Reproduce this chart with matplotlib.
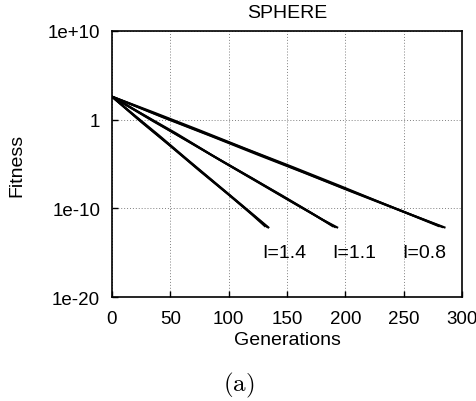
import matplotlib.pyplot as plt
import numpy as np

# best fitness (log10) per generation, three runs for each I setting
gens_14 = [[0, 20, 45, 70, 95, 115, 133],
           [0, 25, 50, 75, 100, 120, 131],
           [0, 15, 40, 65, 90, 110, 134]]
logf_14 = [[2.6, 0.35, -2.40, -5.15, -7.90, -10.10, -12.10],
           [2.6, -0.25, -2.95, -5.75, -8.45, -10.70, -12.00],
           [2.6, 0.95, -1.75, -4.55, -7.30, -9.50, -12.15]]

gens_11 = [[0, 30, 60, 90, 120, 150, 175, 191],
           [0, 25, 55, 85, 115, 145, 170, 189],
           [0, 35, 65, 95, 125, 155, 180, 193]]
logf_11 = [[2.6, 0.30, -2.05, -4.35, -6.60, -8.95, -10.85, -12.10],
           [2.6, 0.70, -1.55, -3.95, -6.25, -8.50, -10.45, -12.00],
           [2.6, -0.15, -2.40, -4.75, -7.05, -9.35, -11.25, -12.15]]

gens_08 = [[0, 40, 80, 120, 160, 200, 240, 283],
           [0, 35, 75, 115, 155, 195, 235, 280],
           [0, 45, 85, 125, 165, 205, 245, 285]]
logf_08 = [[2.6, 0.50, -1.55, -3.60, -5.70, -7.80, -9.85, -12.10],
           [2.6, 0.85, -1.20, -3.30, -5.35, -7.45, -9.60, -12.00],
           [2.6, 0.20, -1.85, -3.95, -6.00, -8.10, -10.15, -12.15]]

labels = ["I=1.4", "I=1.1", "I=0.8"]
label_x = [148, 208, 268]
label_y = 1e-15

plt.rcParams['font.family'] = ['Liberation Sans', 'DejaVu Sans']
plt.rcParams['mathtext.fontset'] = 'cm'

fig = plt.figure(figsize=(4.77, 4.02), dpi=100)
ax = fig.add_axes([0.2348, 0.2587, 0.7338, 0.6617])

for gens, logf in [(gens_14, logf_14), (gens_11, logf_11), (gens_08, logf_08)]:
    for g, f in zip(gens, logf):
        ax.plot(g, 10.0 ** np.array(f), color='black', lw=1.5)

for lab, lx in zip(labels, label_x):
    ax.text(lx, label_y, lab, fontsize=14, ha='center', va='center')

ax.set_yscale('log')
ax.set_xlim(0, 300)
ax.set_ylim(1e-20, 1e10)
ax.set_xticks([0, 50, 100, 150, 200, 250, 300])
ax.set_yticks([1e10, 1, 1e-10, 1e-20])
ax.set_yticklabels(['1e+10', '1', '1e-10', '1e-20'])
ax.minorticks_off()
ax.tick_params(direction='in', labelsize=13.5, length=4, width=1)
ax.tick_params(axis='x', pad=9)
ax.tick_params(axis='y', pad=8.5)
ax.grid(True, color='gray', linestyle=(0, (1, 2)), linewidth=0.7)
for s in ax.spines.values():
    s.set_linewidth(1.2)

ax.set_title("SPHERE", fontsize=14, pad=10)
ax.set_xlabel("Generations", fontsize=14, labelpad=3)
ax.set_ylabel("Fitness", fontsize=14, labelpad=16)

fig.text(0.5, 0.042, r'$\mathrm{(a)}$', fontsize=18, ha='center', va='center')

fig.savefig('out.png', dpi=100)
